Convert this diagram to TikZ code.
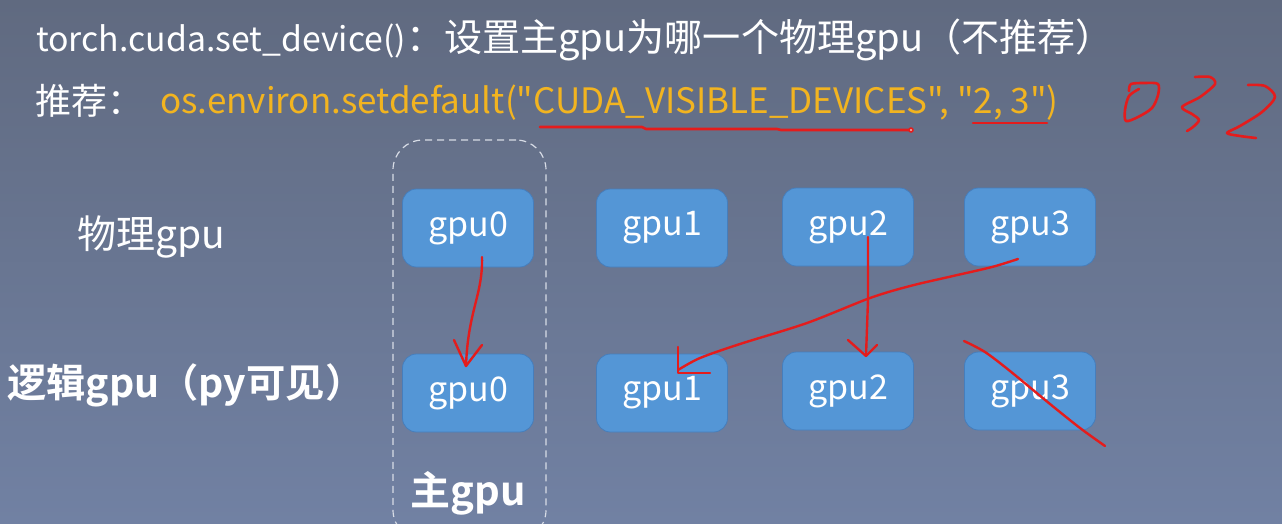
\documentclass[tikz,border=0pt]{standalone}
\usepackage{fontspec}
\setmainfont{Noto Sans CJK SC}
\newfontfamily\cjkbold{Noto Sans CJK SC Bold}
\newfontfamily\codefont{Noto Sans CJK SC}[Ligatures=TeXOff]
\definecolor{bgtop}{RGB}{96,106,128}
\definecolor{bgbot}{RGB}{113,129,163}
\definecolor{boxfill}{RGB}{84,150,214}
\definecolor{boxedge}{RGB}{70,126,188}
\definecolor{codeorange}{RGB}{242,180,32}
\definecolor{penred}{RGB}{228,28,28}
\definecolor{framegray}{RGB}{215,220,230}
\tikzset{
  gpubox/.style={draw=boxedge, line width=0.8pt, fill=boxfill, rounded corners=14pt,
    minimum width=131pt, minimum height=78pt, inner sep=0pt, text=white,
    font=\fontsize{34}{36}\selectfont},
  hand/.style={draw=penred, line width=2.4pt, line cap=round, line join=round},
  title/.style={text=white, inner sep=0pt, font=\fontsize{33.8}{36}\selectfont},
  rowlabel/.style={text=white, inner sep=0pt, font=\fontsize{39}{40}\selectfont},
  rowlabelb/.style={text=white, inner sep=0pt, font=\cjkbold\fontsize{39.3}{40}\selectfont},
}
\begin{document}
\begin{tikzpicture}[x=1pt,y=-1pt]
\shade[top color=bgtop, bottom color=bgbot] (0,0) rectangle (1282,523);
\useasboundingbox (0,0) rectangle (1282,523);

% top texts
\node[title, anchor=base west] (t1) at (36,51) {torch.cuda.set\_device(){\fontsize{38.1}{40}\selectfont：设置主gpu为哪一个物理gpu（不推荐）}};
\node[title, font=\fontsize{36}{40}\selectfont, anchor=base west] (t2) at (35,114) {推荐：};
\node[title, text=codeorange, font=\codefont\fontsize{35}{40}\selectfont, anchor=base west] (t3) at (160,113) {os.environ.setdefault("CUDA\_VISIBLE\_DEVICES", "2, 3")};

% main gpu frame
\node[draw=framegray, dashed, dash pattern=on 7pt off 5pt, line width=1.2pt,
      rounded corners=30pt, minimum width=153pt, minimum height=400pt, inner sep=0pt]
      (frame) at (469.5,340) {};
\node[text=white, inner sep=0pt, font=\cjkbold\fontsize{40}{42}\selectfont, anchor=base] (main) at (468,505) {主gpu};

% row labels
\node[rowlabel, anchor=base west] (lphys) at (77,248) {物理gpu};
\node[rowlabelb, anchor=base west] (llog) at (7,397) {逻辑gpu（py可见）};

% boxes
\node[gpubox] (p0) at (468,228) {gpu0};
\node[gpubox] (p1) at (662,228) {gpu1};
\node[gpubox] (p2) at (848,227) {gpu2};
\node[gpubox] (p3) at (1030,227) {gpu3};
\node[gpubox] (l0) at (468,393) {gpu0};
\node[gpubox] (l1) at (662,393) {gpu1};
\node[gpubox] (l2) at (848,391) {gpu2};
\node[gpubox] (l3) at (1030,391) {gpu3};

% hand-drawn annotations
\coordinate (a0s) at (482,257);
\coordinate (a0e) at (466,366);
\draw[hand] (a0s) .. controls (483,295) and (468,310) .. (a0e);
\draw[hand] (454,340) -- (a0e) -- (482,345);

\coordinate (a2s) at (868,237);
\coordinate (a2e) at (866,356);
\draw[hand] (a2s) -- (868,300) -- (a2e);
\draw[hand] (848,340) -- (a2e) -- (877,345);

\coordinate (a3s) at (1018,259);
\coordinate (a3e) at (678,370);
\draw[hand] plot[smooth] coordinates {(a3s) (992,267) (953,276) (910,286) (870,298) (807,323) (740,344) (700,358) (a3e)};
\draw[hand] (678,347) -- (678,373) -- (710,373);

\draw[hand] plot[smooth] coordinates {(964,341) (985,352) (1010,371) (1050,404) (1080,428) (1105,446)};

% underlines
\draw[hand, line width=2.6pt] (540,127) -- (642,127) -- (646,129) -- (777,129) -- (781,130) -- (910,130);
\fill[penred] (911,130) circle (2.8pt);
\fill[white!70!penred] (911,130) circle (1.2pt);
\draw[hand, line width=2.6pt] (973,123) -- (1047,123);

% handwritten 0 3 2
\draw[hand, line width=2.6pt] plot[smooth] coordinates {(1139,89) (1129,96) (1125,110) (1126,121) (1138,117) (1152,108) (1158,95) (1158,84) (1145,83) (1131,84) (1129,91)};
\draw[hand, line width=2.6pt] plot[smooth] coordinates {(1195,77) (1210,77) (1215,84) (1200,97) (1182,107) (1192,114) (1199,120) (1193,127) (1187,131)};
\draw[hand, line width=2.6pt] plot[smooth] coordinates {(1248,85) (1265,86) (1275,97) (1262,112) (1240,126) (1227,133) (1240,136) (1256,138)};
\end{tikzpicture}
\end{document}
